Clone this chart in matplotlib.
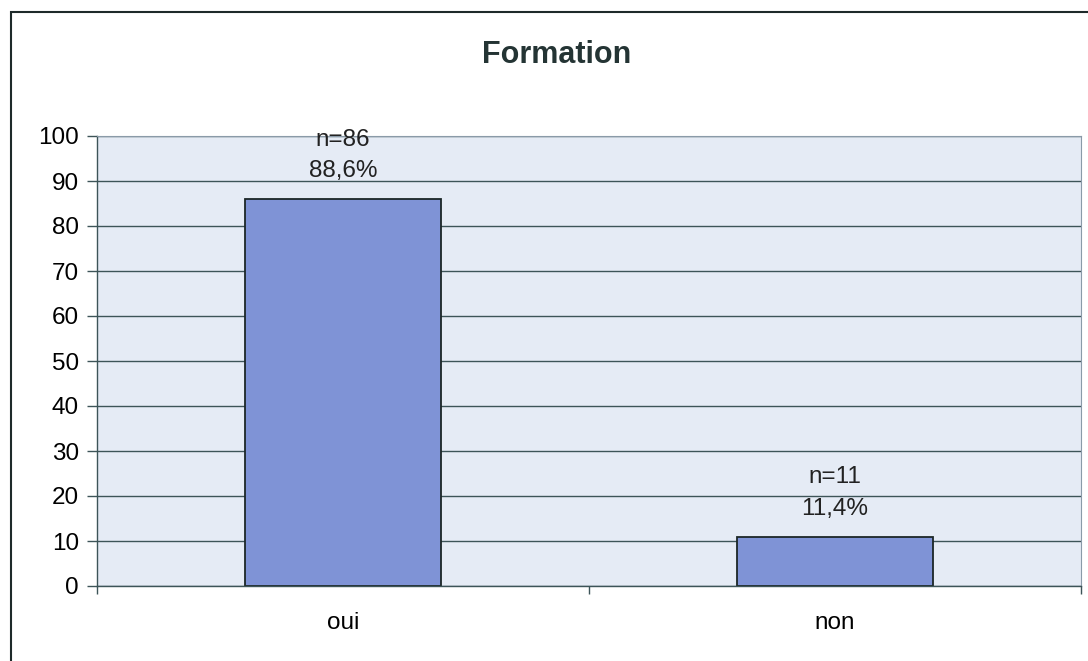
import matplotlib
matplotlib.use("Agg")
import matplotlib.pyplot as plt
from matplotlib.patches import Rectangle

# Data
categories = ["oui", "non"]
counts = [86, 11]
percents = ["88,6%", "11,4%"]

plt.rcParams["font.family"] = ["Liberation Sans", "DejaVu Sans"]

fig = plt.figure(figsize=(10.88, 6.61), dpi=100)
ax = fig.add_axes([97 / 1088, 1 - 586 / 661, (1081 - 97) / 1088, (586 - 136) / 661])

grid_color = "#3d5458"
ax.set_facecolor("#e5ebf5")
ax.set_axisbelow(True)
ax.yaxis.grid(True, color=grid_color, linewidth=1.0)

x = list(range(len(categories)))
ax.bar(x, counts, width=0.4, color="#7f93d6", edgecolor="#1c2626", linewidth=1.3)

for xi, n, p in zip(x, counts, percents):
    ax.annotate(f"n={n}\n{p}", (xi, n), xytext=(0, 12), textcoords="offset points",
                ha="center", va="bottom", fontsize=17.5, color="#222", linespacing=1.55)

ax.set_xlim(-0.5, 1.5)
ax.set_ylim(0, 100)
ax.set_yticks(range(0, 101, 10))
ax.set_xticks(x)
ax.set_xticklabels(categories)
ax.set_xticks([-0.5, 0.5, 1.5], minor=True)
ax.tick_params(axis="x", which="major", length=0, pad=19, labelsize=17.5)
ax.tick_params(axis="x", which="minor", length=6, color=grid_color, width=1)
ax.tick_params(axis="y", length=7, color=grid_color, width=1, labelsize=17.5, pad=6)

for side in ["top", "right"]:
    ax.spines[side].set_color("#8a9aa8")
    ax.spines[side].set_linewidth(0.8)
for side in ["left", "bottom"]:
    ax.spines[side].set_color(grid_color)
    ax.spines[side].set_linewidth(1.0)

fig.text(557 / 1088, 1 - 55 / 661, "Formation", ha="center", va="center",
         fontsize=22, fontweight="bold", color="#243434")

# outer chart frame
fig.patches.append(Rectangle((11 / 1088, -0.01), 1.02, 1 - 12 / 661 + 0.01,
                             transform=fig.transFigure, fill=False,
                             edgecolor="#1e2a2a", linewidth=1.5))

fig.savefig("out.png", dpi=100)
